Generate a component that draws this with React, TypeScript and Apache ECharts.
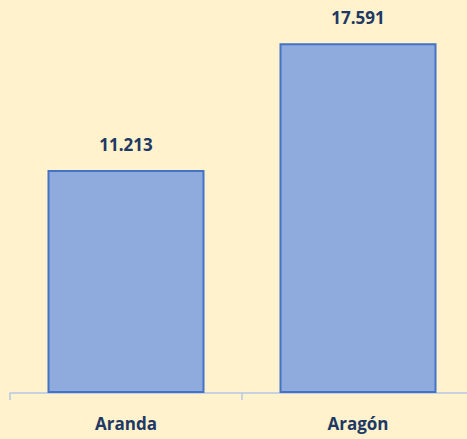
import React, { useEffect, useRef } from "react";
import * as echarts from "echarts";

const categories = ["Aranda", "Aragón"];
const values = [11.213, 17.591];

export default function App() {
  const ref = useRef<HTMLDivElement>(null);
  useEffect(() => {
    const chart = echarts.init(ref.current!, null, { renderer: "svg" });
    chart.setOption({
      animation: false,
      backgroundColor: "#FFF2CC",
      grid: {
        left: 10,
        top: 0,
        right: -7,
        bottom: 46,
        containLabel: false,
        outerBoundsMode: "none",
      },
      xAxis: {
        type: "category",
        data: categories,
        axisLine: { lineStyle: { color: "#B4C7E7", width: 1.5 } },
        axisTick: { show: true, length: 7, lineStyle: { color: "#B4C7E7", width: 1.5 } },
        axisLabel: {
          margin: 22,
          color: "#203864",
          fontSize: 17,
          fontWeight: "bold",
          fontFamily: "Open Sans",
        },
      },
      yAxis: {
        type: "value",
        min: 0,
        max: 19.76,
        show: false,
        splitLine: { show: false },
      },
      series: [
        {
          type: "bar",
          data: values,
          barWidth: 157,
          itemStyle: { color: "#8FAADC", borderColor: "#4472C4", borderWidth: 2 },
          label: {
            show: true,
            position: "top",
            distance: 17,
            color: "#203864",
            fontSize: 17,
            fontWeight: "bold",
            fontFamily: "Open Sans",
            formatter: (p: any) => p.value.toFixed(3),
          },
        },
      ],
    });
    return () => chart.dispose();
  }, []);
  return (
    <div
      ref={ref}
      style={{ position: "fixed", left: 0, top: 0, width: 467, height: 439 }}
    />
  );
}
